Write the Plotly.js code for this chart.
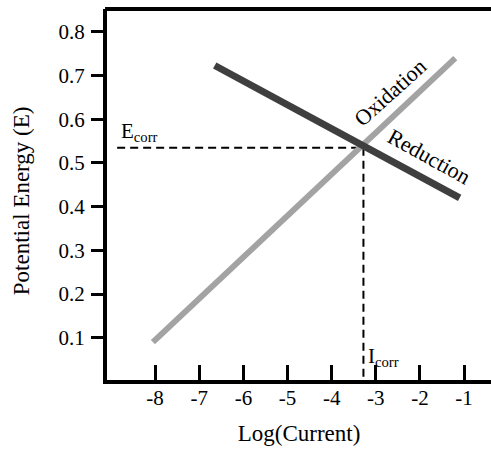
<!DOCTYPE html>
<html>
<head>
<meta charset="utf-8">
<script src="https://cdn.plot.ly/plotly-3.0.1.min.js"></script>
<style>html,body{margin:0;padding:0;background:#fff;overflow:hidden;}#chart{width:491px;height:451px;}</style>
</head>
<body>
<div id="chart"></div>
<script>
// Data
const oxidationX = [-8.05, -1.2];
const oxidationY = [0.09, 0.74];
const reductionX = [-6.65, -1.1];
const reductionY = [0.723, 0.42];
const Ecorr = 0.535;
const Icorr = -3.28;
const ecorrLineX = [-8.86, Icorr];
const ecorrLineY = [Ecorr, Ecorr];
const icorrLineX = [Icorr, Icorr];
const icorrLineY = [Ecorr, 0];
const xTicks = [-8, -7, -6, -5, -4, -3, -2, -1];
const yTicks = [0.1, 0.2, 0.3, 0.4, 0.5, 0.6, 0.7, 0.8];

const serif = 'Liberation Serif';
const xr = [-9.09, -0.39];
const yr = [0.0032, 0.8524];

const traces = [
  {x: ecorrLineX, y: ecorrLineY, mode: 'lines', line: {color: '#000', width: 2, dash: '8px,5px'}, hoverinfo: 'skip'},
  {x: icorrLineX, y: icorrLineY, mode: 'lines', line: {color: '#000', width: 2, dash: '8px,5px'}, hoverinfo: 'skip'},
  {x: oxidationX, y: oxidationY, mode: 'lines', line: {color: '#a3a3a3', width: 6}, hoverinfo: 'skip'},
  {x: reductionX, y: reductionY, mode: 'lines', line: {color: '#3f3f3f', width: 7}, hoverinfo: 'skip'}
];

const layout = {
  width: 491, height: 451,
  margin: {l: 107, r: 0, t: 9, b: 71},
  paper_bgcolor: '#fff', plot_bgcolor: '#fff',
  showlegend: false,
  font: {family: serif, size: 20, color: '#000'},
  xaxis: {
    range: xr, tickvals: xTicks, ticktext: xTicks.map(String),
    showgrid: false, zeroline: false,
    showline: true, linecolor: '#000', linewidth: 4,
    ticks: 'inside', ticklen: 15, tickwidth: 3, tickcolor: '#000',
    ticklabelstandoff: -4,
    tickfont: {family: serif, size: 21, color: '#000'},
    title: {text: 'Log(Current)', font: {family: serif, size: 23, color: '#000'}, standoff: 17}
  },
  yaxis: {
    range: yr, tickvals: yTicks, ticktext: yTicks.map(v => v.toFixed(1)),
    showgrid: false, zeroline: false,
    showline: true, linecolor: '#000', linewidth: 4,
    ticks: 'outside', ticklen: 12, tickwidth: 3, tickcolor: '#000',
    ticklabelstandoff: 2,
    tickfont: {family: serif, size: 21, color: '#000'}
  },
  yaxis2: {
    range: yr, overlaying: 'y', side: 'left', tickvals: yTicks,
    showticklabels: false, showgrid: false, zeroline: false, showline: false,
    ticks: 'inside', ticklen: 23, tickwidth: 3, tickcolor: '#000'
  },
  shapes: [
    {type: 'line', xref: 'paper', yref: 'paper', x0: -0.005, x1: 1, y0: 1, y1: 1, line: {color: '#000', width: 4}}
  ],
  annotations: [
    {x: -0.222, y: 0.484, xref: 'paper', yref: 'paper', text: 'Potential Energy (E)', showarrow: false, textangle: -90, xanchor: 'center', yanchor: 'middle', font: {family: serif, size: 23, color: '#000'}},
    {x: -8.82, y: Ecorr, xref: 'x', yref: 'y', text: 'E<sub>corr</sub>', showarrow: false, xanchor: 'left', yanchor: 'bottom', yshift: 1, font: {family: serif, size: 21, color: '#000'}},
    {x: Icorr, y: 0.022, xref: 'x', yref: 'y', text: 'I<sub>corr</sub>', showarrow: false, xanchor: 'left', yanchor: 'bottom', xshift: 3, font: {family: serif, size: 21, color: '#000'}},
    {x: -2.68, y: 0.662, xref: 'x', yref: 'y', text: 'Oxidation', showarrow: false, textangle: -42, font: {family: serif, size: 22, color: '#000'}},
    {x: -1.79, y: 0.515, xref: 'x', yref: 'y', text: 'Reduction', showarrow: false, textangle: 29, font: {family: serif, size: 22, color: '#000'}}
  ]
};

Plotly.newPlot('chart', traces, layout, {displayModeBar: false, staticPlot: true});
</script>
</body>
</html>
